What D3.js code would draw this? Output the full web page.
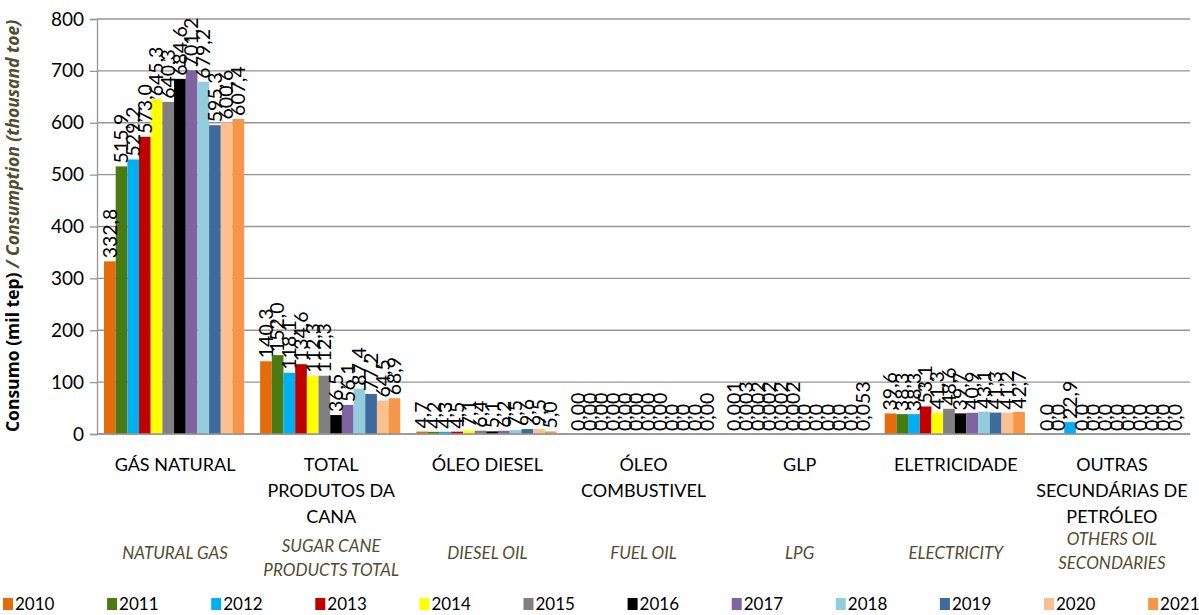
<!DOCTYPE html>
<html>
<head>
<meta charset="utf-8">
<script src="https://cdn.jsdelivr.net/npm/d3@7"></script>
<style>
  body { margin: 0; background: #fff; }
  svg text { font-family: Lato, "Open Sans", sans-serif; }
</style>
</head>
<body>
<div id="chart"></div>
<script>
// categories (pt lines / en lines)
const categoriesPt = [
  ["GÁS NATURAL"],
  ["TOTAL", "PRODUTOS DA", "CANA"],
  ["ÓLEO DIESEL"],
  ["ÓLEO", "COMBUSTIVEL"],
  ["GLP"],
  ["ELETRICIDADE"],
  ["OUTRAS", "SECUNDÁRIAS DE", "PETRÓLEO"]
];
const categoriesEn = [
  ["NATURAL GAS"],
  ["SUGAR CANE", "PRODUCTS TOTAL"],
  ["DIESEL OIL"],
  ["FUEL OIL"],
  ["LPG"],
  ["ELECTRICITY"],
  ["OTHERS OIL", "SECONDARIES"]
];
const years = ["2010","2011","2012","2013","2014","2015","2016","2017","2018","2019","2020","2021"];

// values per category, one per year
const gasNatural = [332.8, 515.9, 529.2, 573.0, 645.3, 640.3, 684.6, 701.2, 679.2, 595.3, 600.6, 607.4];
const cana       = [140.3, 152.0, 118.1, 134.6, 112.3, 112.3, 36.5, 56.1, 87.4, 77.2, 64.5, 68.9];
const diesel     = [4.7, 4.2, 4.3, 4.5, 7.1, 6.4, 5.1, 6.2, 7.5, 9.6, 9.5, 5.0];
const oleoComb   = [0.00, 0.00, 0.00, 0.00, 0.00, 0.00, 0.00, 0.00, 0.0, 0.0, 0.0, 0.00];
const glp        = [0.001, 0.003, 0.002, 0.002, 0.002, 0.002, 0.0, 0.0, 0.0, 0.0, 0.0, 0.053];
const eletric    = [39.6, 38.3, 38.3, 53.1, 41.3, 48.6, 39.7, 40.9, 43.1, 41.3, 41.2, 42.7];
const outras     = [0.0, 0.0, 22.9, 0.0, 0.0, 0.0, 0.0, 0.0, 0.0, 0.0, 0.0, 0.0];

// label formats as printed in the source
const labelDigits = [1, 1, 1, 2, 3, 1, 1];
const glpDigits = [3, 3, 3, 3, 3, 3, 1, 1, 1, 1, 1, 3];
const oleoDigits = [2, 2, 2, 2, 2, 2, 2, 2, 1, 1, 1, 2];

const yTicks = [0, 100, 200, 300, 400, 500, 600, 700, 800];

const colors = ["#E46C0A", "#4A7A12", "#00B0F0", "#C00000", "#FFFF00", "#808080",
                "#000000", "#8064A2", "#93CDDD", "#3F6A9E", "#FAC090", "#F79646"];

const series = [gasNatural, cana, diesel, oleoComb, glp, eletric, outras];

const W = 1199, H = 615;
const margin = {top: 19, right: 9, bottom: 181, left: 97};
const width = W - margin.left - margin.right,
      height = H - margin.top - margin.bottom;

const svg = d3.select("#chart").append("svg")
  .attr("width", W).attr("height", H);
const g = svg.append("g")
  .attr("transform", `translate(${margin.left},${margin.top})`);

const x0 = d3.scaleBand()
  .domain(d3.range(categoriesPt.length))
  .range([0, width])
  .padding(0);

const x1 = d3.scaleBand()
  .domain(years)
  .range([7, x0.bandwidth() - 9])
  .padding(0);

const y = d3.scaleLinear()
  .domain([0, 800])
  .range([height, 0]);

const color = d3.scaleOrdinal().domain(years).range(colors);

// gridlines
g.append("g")
  .selectAll("line")
  .data(yTicks)
  .join("line")
    .attr("x1", 0).attr("x2", width)
    .attr("y1", d => y(d)).attr("y2", d => y(d))
    .attr("stroke", "#969696")
    .attr("stroke-width", 1.3);

// y axis
const yAxis = g.append("g")
  .call(d3.axisLeft(y).tickValues(yTicks).tickSize(7).tickPadding(6).tickFormat(d3.format("d")));
yAxis.select(".domain").attr("stroke", "#969696").attr("stroke-width", 1.3);
yAxis.selectAll(".tick line").attr("stroke", "#969696").attr("stroke-width", 1.3);
yAxis.selectAll("text").style("font-size", "19px").attr("fill", "#000");

// bars
const groups = g.append("g")
  .selectAll("g")
  .data(series)
  .join("g")
    .attr("transform", (d, i) => `translate(${x0(i)},0)`);

groups.selectAll("rect")
  .data(d => d.map((v, j) => ({year: years[j], value: v})))
  .join("rect")
    .attr("x", d => x1(d.year))
    .attr("y", d => y(d.value))
    .attr("width", x1.bandwidth())
    .attr("height", d => height - y(d.value))
    .attr("fill", d => color(d.year));

// data labels
function fmt(v, ci, j) {
  let digits = labelDigits[ci];
  if (ci === 4) digits = glpDigits[j];
  if (ci === 3) digits = oleoDigits[j];
  return v.toFixed(digits).replace(".", ",");
}

groups.each(function(d, ci) {
  d3.select(this).selectAll("text")
    .data(d.map((v, j) => ({year: years[j], value: v, j: j})))
    .join("text")
      .attr("transform", p => `translate(${x1(p.year) + x1.bandwidth() / 2},${y(p.value) - 3}) rotate(-90)`)
      .attr("dy", "0.35em")
      .attr("text-anchor", "start")
      .style("font-size", "19.5px")
      .attr("fill", "#000")
      .text(p => fmt(p.value, ci, p.j));
});

// bottom axis line
g.append("line")
  .attr("x1", 0).attr("x2", width)
  .attr("y1", height).attr("y2", height)
  .attr("stroke", "#969696")
  .attr("stroke-width", 1.3);

// category labels (pt)
categoriesPt.forEach((lines, i) => {
  const t = g.append("text")
    .attr("x", x0(i) + x0.bandwidth() / 2)
    .attr("y", height + 37)
    .attr("text-anchor", "middle")
    .style("font-size", "18px")
    .attr("fill", "#000");
  lines.forEach((l, k) => {
    t.append("tspan")
      .attr("x", x0(i) + x0.bandwidth() / 2)
      .attr("dy", k === 0 ? 0 : 26)
      .text(l);
  });
});

// category labels (en)
categoriesEn.forEach((lines, i) => {
  const y0 = lines.length === 1 ? height + 125 : (i === 6 ? height + 111 : height + 118);
  const t = g.append("text")
    .attr("x", x0(i) + x0.bandwidth() / 2)
    .attr("y", y0)
    .attr("text-anchor", "middle")
    .style("font-size", "17px")
    .style("font-style", "italic")
    .attr("fill", "#514D30");
  lines.forEach((l, k) => {
    t.append("tspan")
      .attr("x", x0(i) + x0.bandwidth() / 2)
      .attr("dy", k === 0 ? 0 : 24)
      .text(l);
  });
});

// y label
const yl = svg.append("text")
  .attr("transform", `translate(19,226) rotate(-90)`)
  .attr("text-anchor", "middle")
  .style("font-family", "'Open Sans', sans-serif")
  .style("font-size", "17.5px")
  .style("font-weight", 700);
yl.append("tspan").attr("fill", "#000").text("Consumo (mil tep) ");
yl.append("tspan").attr("fill", "#514D30").style("font-style", "italic").text("/ Consumption (thousand toe)");

// legend
const legend = svg.append("g")
  .attr("transform", `translate(3,${H - 11})`);
const item = legend.selectAll("g")
  .data(years)
  .join("g")
    .attr("transform", (d, i) => `translate(${i * 104.1},0)`);
item.append("rect")
  .attr("width", 10).attr("height", 12)
  .attr("y", -6)
  .attr("fill", d => color(d));
item.append("text")
  .attr("x", 12)
  .attr("dy", "0.35em")
  .style("font-size", "17px")
  .attr("fill", "#000")
  .text(d => d);
</script>
</body>
</html>
